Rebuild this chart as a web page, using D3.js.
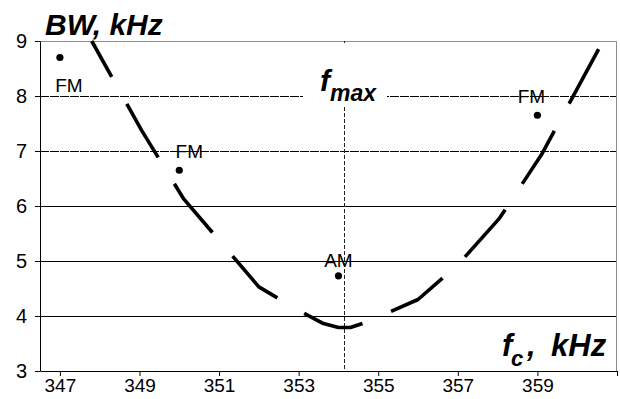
<!DOCTYPE html>
<html>
<head>
<meta charset="utf-8">
<script src="https://cdn.jsdelivr.net/npm/d3@7"></script>
<style>
  html, body { margin: 0; padding: 0; background: #fff; }
  svg { display: block; font-family: Arial, "Liberation Sans", sans-serif; }
</style>
</head>
<body>
<svg id="chart"></svg>
<script>
// bandwidth curve
const curveFreq = [347.8, 349.05, 350.1, 352.0, 353.0, 353.6, 354.0, 354.3, 354.75, 356.0, 357.0, 358.05, 359.1, 360.65];
const curveBW   = [9.0,   7.38,   6.14,  4.53,  4.1,   3.87,  3.79,  3.79,  3.9,    4.3,   4.93,  5.78,   6.93,  9.0];

// measured points
const pointFreq   = [347, 350, 354, 359];
const pointBW     = [8.7, 6.65, 4.73, 7.65];
const pointLabels = ["FM", "FM", "AM", "FM"];

const xTicks = [347, 349, 351, 353, 355, 357, 359, 361];
const xTickLabels = ["347", "349", "351", "353", "355", "357", "359", ""];
const yTicks = [3, 4, 5, 6, 7, 8, 9];
const fMax = 354.13;

const width = 620, height = 399;
const margin = { top: 41, right: 3, bottom: 28, left: 40 };

// label offsets from each dot (px)
const labelOffsets = [[9, 34], [10, -12], [0, -9], [-6, -12]];

const svg = d3.select("#chart").attr("width", width).attr("height", height);

const x = d3.scaleLinear().domain([346.5, 361]).range([margin.left, width - margin.right]);
const y = d3.scaleLinear().domain([3, 9]).range([height - margin.bottom, margin.top]);

// gridlines (7 and 8 have a faint dotted texture in the original)
svg.append("g").selectAll("line")
  .data(yTicks.filter(d => d > 3 && d < 9))
  .join("line")
    .attr("x1", x(346.5)).attr("x2", x(361))
    .attr("y1", d => Math.round(y(d)) + 0.5).attr("y2", d => Math.round(y(d)) + 0.5)
    .attr("stroke", "#000")
    .attr("stroke-width", 1)
    .attr("stroke-dasharray", d => d >= 7 ? "9,1" : null);

// plot border top / right (grey)
svg.append("path")
  .attr("d", `M${x(346.5)},${Math.round(y(9)) + 0.5}H${Math.round(x(361)) - 0.5}V${y(3)}`)
  .attr("fill", "none")
  .attr("stroke", "#8c8c8c");

// f_max vertical marker
svg.append("line")
  .attr("x1", Math.round(x(fMax)) + 0.5).attr("x2", Math.round(x(fMax)) + 0.5)
  .attr("y1", y(9)).attr("y2", y(3))
  .attr("stroke", "#222")
  .attr("stroke-dasharray", "4,2");

// f_max label box
svg.append("rect")
  .attr("x", 303).attr("y", 43).attr("width", 84).attr("height", 62)
  .attr("fill", "#fff");
svg.append("text")
  .attr("x", 320).attr("y", 91)
  .attr("font-size", 30).attr("font-weight", "bold").attr("font-style", "italic")
  .text("f");
svg.append("text")
  .attr("x", 330).attr("y", 101)
  .attr("font-size", 23).attr("font-weight", "bold").attr("font-style", "italic")
  .text("max");

// axes
const xAxis = svg.append("g")
  .attr("transform", `translate(0,${y(3)})`)
  .call(d3.axisBottom(x).tickValues(xTicks).tickFormat((d, i) => xTickLabels[i]).tickSize(5).tickSizeOuter(0));
xAxis.select(".domain").attr("stroke", "#000");
xAxis.selectAll("text").attr("font-size", 19).attr("fill", "#000").attr("font-family", "Arial, 'Liberation Sans', sans-serif").attr("y", 6).attr("dy", "0.8em");

const yAxis = svg.append("g")
  .attr("transform", `translate(${x(346.5)},0)`)
  .call(d3.axisLeft(y).tickValues(yTicks).tickFormat(d3.format("d")).tickSize(5).tickSizeOuter(0));
yAxis.select(".domain").attr("stroke", "#000");
yAxis.selectAll("text").attr("font-size", 20).attr("fill", "#000").attr("font-family", "Arial, 'Liberation Sans', sans-serif").attr("x", -13);

// curve
const curve = curveFreq.map((f, i) => [f, curveBW[i]]);
svg.append("path")
  .datum(curve)
  .attr("d", d3.line().x(d => x(d[0])).y(d => y(d[1])))
  .attr("fill", "none")
  .attr("stroke", "#000")
  .attr("stroke-width", 3.6)
  .attr("stroke-linejoin", "round")
  .attr("stroke-dasharray", "62,31")
  .attr("stroke-dashoffset", 21);

// points + labels
const pts = pointFreq.map((f, i) => ({ f, v: pointBW[i], label: pointLabels[i], off: labelOffsets[i] }));
svg.append("g").selectAll("circle")
  .data(pts)
  .join("circle")
    .attr("cx", d => x(d.f)).attr("cy", d => y(d.v)).attr("r", 3.6)
    .attr("fill", "#000");
svg.append("g").selectAll("text")
  .data(pts)
  .join("text")
    .attr("x", d => x(d.f) + d.off[0]).attr("y", d => y(d.v) + d.off[1])
    .attr("text-anchor", "middle")
    .attr("font-size", 19)
    .text(d => d.label);

// axis titles
svg.append("text")
  .attr("x", 45).attr("y", 35)
  .attr("font-size", 30).attr("font-weight", "bold").attr("font-style", "italic")
  .text("BW, kHz");

svg.append("text")
  .attr("x", 502).attr("y", 356)
  .attr("font-size", 31).attr("font-weight", "bold").attr("font-style", "italic")
  .text("f");
svg.append("text")
  .attr("x", 511).attr("y", 366)
  .attr("font-size", 22).attr("font-weight", "bold").attr("font-style", "italic")
  .text("c");
svg.append("text")
  .attr("x", 527).attr("y", 356)
  .attr("font-size", 31).attr("font-weight", "bold").attr("font-style", "italic")
  .text(",");
svg.append("text")
  .attr("x", 551).attr("y", 356)
  .attr("font-size", 31).attr("font-weight", "bold").attr("font-style", "italic")
  .text("kHz");
</script>
</body>
</html>
